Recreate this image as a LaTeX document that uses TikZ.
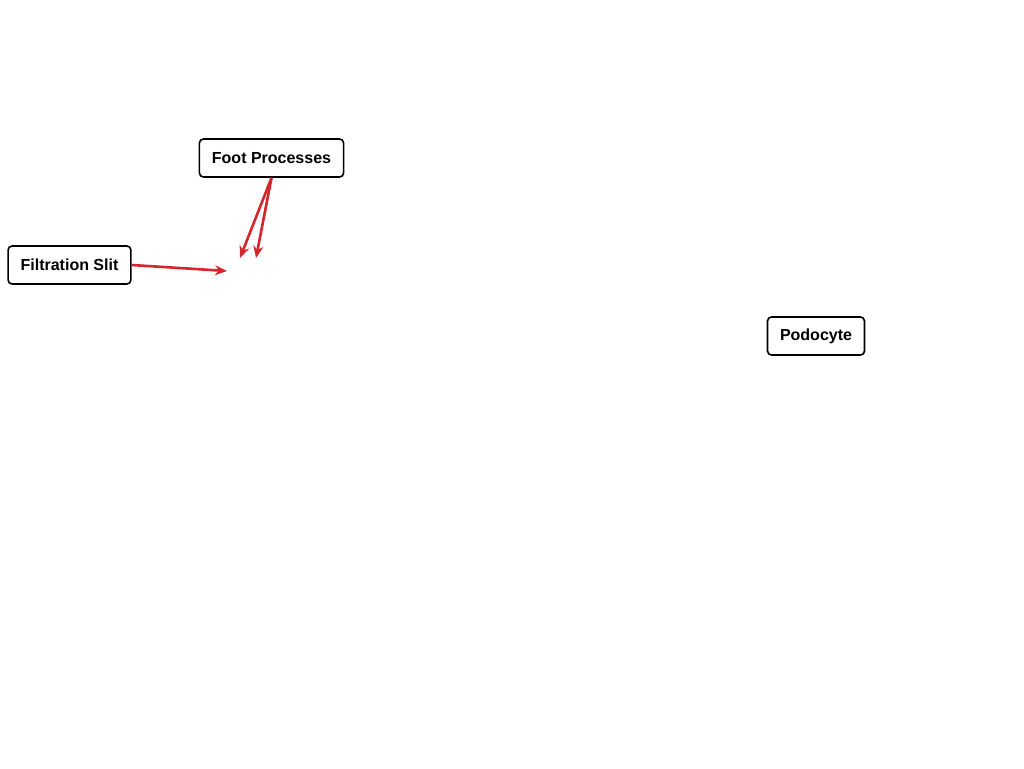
\documentclass[tikz,border=0pt]{standalone}
\usepackage{fontspec}
\setmainfont{Liberation Sans}
\usetikzlibrary{arrows.meta}
\definecolor{arrowred}{RGB}{214,36,44}
\begin{document}
\begin{tikzpicture}[x=1pt,y=-1pt,
  label box/.style={draw=black,line width=1.6pt,rounded corners=4pt,fill=white,
    minimum height=38pt,inner xsep=12.5pt,inner ysep=0pt,
    font=\fontsize{16}{19}\selectfont\bfseries},
  red arrow/.style={draw=arrowred,line width=2.6pt,-{Stealth[length=12pt,width=10pt]}}]
\useasboundingbox (0,0) rectangle (1024,768);
\node[label box] (foot) at (271.5,158) {Foot Processes};
\node[label box] (filt) at (69.5,265) {Filtration Slit};
\node[label box] (podo) at (816,336) {Podocyte};
\coordinate (fpA) at (240,258);
\coordinate (fpB) at (256,258);
\coordinate (fsA) at (227,271);
\draw[red arrow] (foot.south) -- (fpA);
\draw[red arrow] (foot.south) -- (fpB);
\draw[red arrow] (filt.east) -- (fsA);
\end{tikzpicture}
\end{document}
